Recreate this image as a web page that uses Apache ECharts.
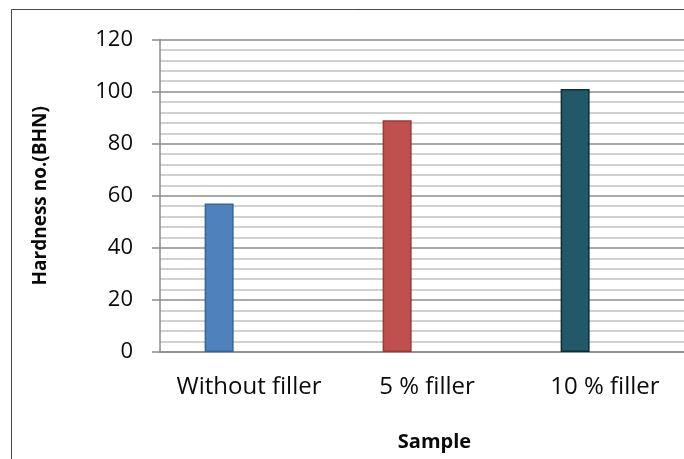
<!DOCTYPE html>
<html>
<head>
<meta charset="utf-8">
<script src="https://cdn.jsdelivr.net/npm/echarts@6/dist/echarts.min.js"></script>
<style>
html,body{margin:0;padding:0;background:#fff;overflow:hidden;}
#chart{width:694px;height:459px;}
</style>
</head>
<body>
<div id="chart"></div>
<script>
// Data
var categories = ['Without filler', '5 % filler', '10 % filler'];
var hardness = [57, 89, 101];
var barColors = ['#4F81BD', '#C0504D', '#215968'];
var barBorders = ['#36639a', '#933a37', '#0f2d38'];
var yTicks = [0, 20, 40, 60, 80, 100, 120];
var xAxisTitle = 'Sample';
var yAxisTitle = 'Hardness no.(BHN)';

var FONT = 'Open Sans';

var chart = echarts.init(document.getElementById('chart'), null, {renderer: 'canvas'});

var mainData = hardness.map(function (v, i) {
  return {
    value: v,
    itemStyle: {color: barColors[i], borderColor: barBorders[i], borderWidth: 1.5}
  };
});
var emptyData = categories.map(function () { return null; });

var option = {
  backgroundColor: '#ffffff',
  animation: false,
  graphic: [{
    type: 'rect',
    silent: true,
    z: 100,
    shape: {x: 11.5, y: 9.5, width: 720, height: 500},
    style: {fill: 'none', stroke: '#4a4a4a', lineWidth: 1}
  }],
  grid: {left: 160, top: 39.5, right: 0, bottom: 107, containLabel: false},
  xAxis: {
    type: 'category',
    data: categories,
    boundaryGap: true,
    axisLine: {show: true, lineStyle: {color: '#8a8a8a', width: 1.5}},
    axisTick: {show: false},
    splitLine: {show: false},
    axisLabel: {
      interval: 0,
      margin: 23,
      fontFamily: FONT,
      fontSize: 24,
      color: '#0a0a0a'
    },
    name: xAxisTitle,
    nameLocation: 'middle',
    nameGap: 80,
    nameTextStyle: {
      fontFamily: FONT,
      fontWeight: 'bold',
      fontSize: 20,
      color: '#0a0a0a',
      padding: [0, 0, 0, 15]
    }
  },
  yAxis: {
    type: 'value',
    min: 0,
    max: 120,
    interval: 20,
    axisLine: {show: true, lineStyle: {color: '#8a8a8a', width: 1.5}},
    axisTick: {show: true, inside: false, length: 8, lineStyle: {color: '#8a8a8a', width: 1.5}},
    minorTick: {show: false, splitNumber: 5},
    splitLine: {show: true, lineStyle: {color: '#8c8c8c', width: 1.5}},
    minorSplitLine: {show: true, lineStyle: {color: '#c2c2c2', width: 1.5}},
    axisLabel: {
      margin: 27,
      fontFamily: FONT,
      fontSize: 22,
      color: '#0a0a0a',
      formatter: function (v) { return yTicks.indexOf(v) >= 0 ? String(v) : ''; }
    },
    name: yAxisTitle,
    nameLocation: 'middle',
    nameGap: 110,
    nameRotate: 90,
    nameTextStyle: {
      fontFamily: FONT,
      fontWeight: 'bold',
      fontSize: 19,
      color: '#0a0a0a'
    }
  },
  series: [
    {
      name: 'Hardness',
      type: 'bar',
      data: mainData,
      barWidth: 29,
      barGap: '3%'
    },
    {
      name: 'pad1',
      type: 'bar',
      data: emptyData,
      barWidth: 29,
      barGap: '3%'
    },
    {
      name: 'pad2',
      type: 'bar',
      data: emptyData,
      barWidth: 29,
      barGap: '3%'
    }
  ]
};

chart.setOption(option);
</script>
</body>
</html>
